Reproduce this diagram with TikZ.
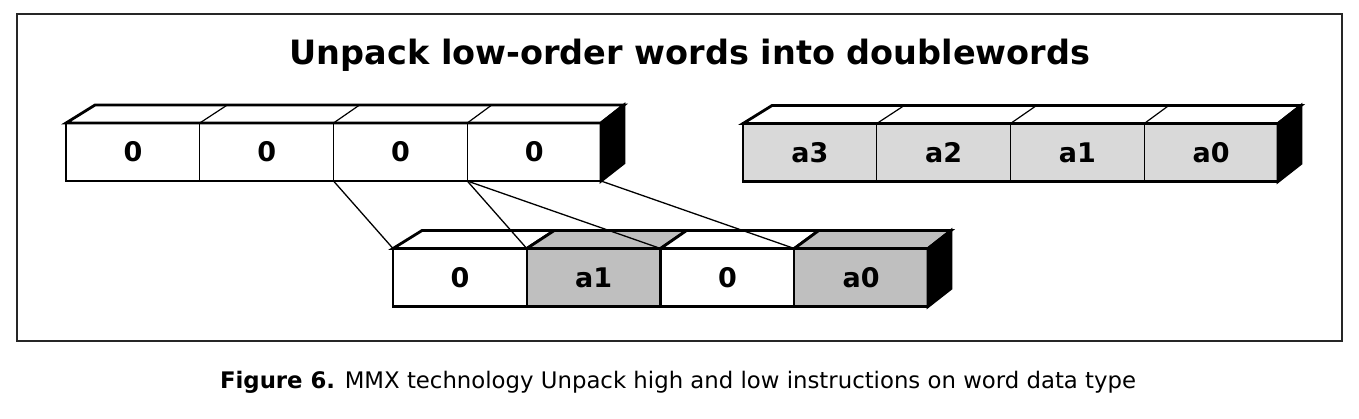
\documentclass[tikz,border=0pt]{standalone}
\usepackage{fontspec}
\setmainfont{DejaVu Sans}
\usetikzlibrary{positioning, calc}
\definecolor{lightgray}{gray}{0.85}
\definecolor{midgray}{gray}{0.75}

\begin{document}
\begin{tikzpicture}[x=1pt, y=-1pt, cell/.style={draw, line width=1.2pt, minimum width=133.75pt, minimum height=58pt, inner sep=0pt, outer sep=0pt, font=\fontsize{27}{27}\selectfont\bfseries}, outline/.style={line width=2.8pt, line join=miter}, divider/.style={line width=1.2pt}, conn/.style={line width=1.3pt}]
		\useasboundingbox (0,0) rectangle (1359,418);
		\draw[line width=1.4pt, black!85] (17,14) rectangle (1342,341);
		\node (T) [anchor=base] at (690,64) {\fontsize{33.5}{33.5}\selectfont\bfseries Unpack low-order words into doublewords};
		\node (F) [anchor=base] at (678,388) {\fontsize{22.8}{22.8}\selectfont\textbf{Figure 6.} MMX technology Unpack high and low instructions on word data type};
		% source register (zeros)
		\node[cell] (L1) at (132.9,152) {0};
		\node[cell] (L2) [right=0pt of L1] {0};
		\node[cell] (L3) [right=0pt of L2] {0};
		\node[cell] (L4) [right=0pt of L3] {0};
		\draw[outline, fill=white] (L1.north west) -- ++(29,-18) -- ($(L4.north east)+(23,-18)$) -- (L4.north east) -- cycle;
		\draw[divider] (L2.north west) -- ++(27.5,-18) (L3.north west) -- ++(26,-18) (L4.north west) -- ++(24.5,-18);
		\filldraw[outline] (L4.north east) -- ++(23,-18) -- ++(0,58) -- (L4.south east) -- cycle;
		\draw[outline] (L1.north west) rectangle (L4.south east);
		% source register (data)
		\node[cell, fill=lightgray] (R1) at (809.9,152.5) {a3};
		\node[cell, fill=lightgray] (R2) [right=0pt of R1] {a2};
		\node[cell, fill=lightgray] (R3) [right=0pt of R2] {a1};
		\node[cell, fill=lightgray] (R4) [right=0pt of R3] {a0};
		\draw[outline, fill=white] (R1.north west) -- ++(29,-18) -- ($(R4.north east)+(23,-18)$) -- (R4.north east) -- cycle;
		\draw[divider] (R2.north west) -- ++(27.5,-18) (R3.north west) -- ++(26,-18) (R4.north west) -- ++(24.5,-18);
		\filldraw[outline] (R4.north east) -- ++(23,-18) -- ++(0,58) -- (R4.south east) -- cycle;
		\draw[outline] (R1.north west) rectangle (R4.south east);
		% result register
		\node[cell, line width=2.2pt] (B1) at (459.9,277.5) {0};
		\node[cell, line width=2.2pt, fill=midgray] (B2) [right=0pt of B1] {a1};
		\node[cell, line width=2.2pt] (B3) [right=0pt of B2] {0};
		\node[cell, line width=2.2pt, fill=midgray] (B4) [right=0pt of B3] {a0};
		\draw[outline, fill=white] (B1.north west) -- ++(29,-18) -- ($(B2.north west)+(27.5,-18)$) -- (B2.north west) -- cycle;
		\draw[outline, fill=midgray] (B2.north west) -- ++(27.5,-18) -- ($(B3.north west)+(26,-18)$) -- (B3.north west) -- cycle;
		\draw[outline, fill=white] (B3.north west) -- ++(26,-18) -- ($(B4.north west)+(24.5,-18)$) -- (B4.north west) -- cycle;
		\draw[outline, fill=midgray] (B4.north west) -- ++(24.5,-18) -- ($(B4.north east)+(23,-18)$) -- (B4.north east) -- cycle;
		\filldraw[outline] (B4.north east) -- ++(23,-18) -- ++(0,58) -- (B4.south east) -- cycle;
		\draw[outline] (B1.north west) rectangle (B4.south east);
		% word moves
		\draw[conn] (L3.south west) -- (B1.north west);
		\draw[conn] (L4.south west) -- (B2.north west);
		\draw[conn] (L4.south west) -- (B3.north west);
		\draw[conn] (L4.south east) -- (B4.north west);
	\end{tikzpicture}
\end{document}
